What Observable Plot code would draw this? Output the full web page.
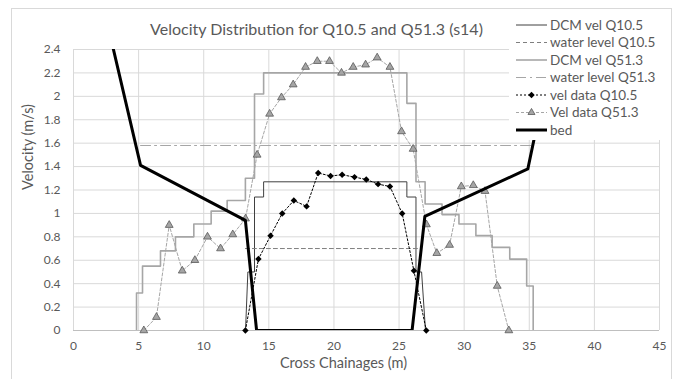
<!DOCTYPE html>
<html>
<head>
<meta charset="utf-8">
<script src="https://cdn.jsdelivr.net/npm/d3@7"></script>
<script src="https://cdn.jsdelivr.net/npm/@observablehq/plot@0.6"></script>
<style>
  html, body { margin: 0; padding: 0; background: white; }
  #chart { position: relative; width: 680px; height: 379px; overflow: hidden; }
</style>
</head>
<body>
<div id="chart"></div>
<script>
// ---- data ----
const title = "Velocity Distribution for Q10.5 and Q51.3 (s14)";
const xLabel = "Cross Chainages (m)";
const yLabel = "Velocity (m/s)";
const xTicks = [0, 5, 10, 15, 20, 25, 30, 35, 40, 45];
const yTicks = [0, 0.2, 0.4, 0.6, 0.8, 1, 1.2, 1.4, 1.6, 1.8, 2, 2.2, 2.4];

// DCM vel Q10.5 (polyline vertices)
const dcm10X = [13.21, 13.39, 13.9, 13.9, 14.6, 14.6, 25.6, 25.6, 26.3, 26.3, 26.73, 27.03];
const dcm10Y = [0, 0.5, 0.5, 1.14, 1.14, 1.27, 1.27, 1.14, 1.14, 0.5, 0.5, 0];

// water level Q10.5
const wl10X = [13.2, 26.5];
const wl10Y = [0.70, 0.70];

// DCM vel Q51.3 (step-after breakpoints)
const dcm51X = [4.84, 4.84, 5.3, 6.68, 7.83, 9.24, 10.57, 11.8, 13.2, 13.9, 14.6, 25.6, 26.3, 27.0, 28.3, 29.6, 30.9, 32.15, 33.5, 34.8, 35.3];
const dcm51Y = [0, 0.32, 0.55, 0.68, 0.80, 0.91, 1.02, 1.11, 1.30, 2.02, 2.20, 1.94, 1.27, 1.08, 0.99, 0.91, 0.81, 0.71, 0.61, 0.38, 0];

// water level Q51.3
const wl51X = [5.15, 35.1];
const wl51Y = [1.58, 1.58];

// vel data Q10.5
const vel10X = [13.2, 14.2, 15.13, 16.03, 16.92, 17.9, 18.79, 19.74, 20.63, 21.58, 22.48, 23.39, 24.3, 25.24, 26.14, 27.09];
const vel10Y = [0, 0.61, 0.81, 1.0, 1.11, 1.06, 1.345, 1.32, 1.33, 1.31, 1.29, 1.25, 1.23, 1.0, 0.51, 0];

// Vel data Q51.3
const vel51X = [5.4, 6.37, 7.35, 8.35, 9.32, 10.29, 11.29, 12.23, 13.21, 14.1, 15.06, 15.97, 16.87, 17.82, 18.72, 19.66, 20.58, 21.48, 22.43, 23.32, 24.3, 25.19, 26.08, 27.1, 27.9, 28.88, 29.78, 30.7, 31.6, 32.54, 33.43];
const vel51Y = [0, 0.114, 0.90, 0.51, 0.60, 0.80, 0.70, 0.82, 0.955, 1.50, 1.85, 1.99, 2.10, 2.25, 2.30, 2.30, 2.20, 2.25, 2.27, 2.33, 2.25, 1.70, 1.55, 0.905, 0.66, 0.73, 1.23, 1.24, 1.19, 0.38, 0];

// bed
const bedX = [2.5, 5.15, 13.2, 14.06, 26.0, 26.98, 34.89, 37.0];
const bedY = [2.67, 1.41, 0.94, 0, 0, 0.974, 1.38, 2.5];

const seriesNames = ["DCM vel Q10.5", "water level Q10.5", "DCM vel Q51.3", "water level Q51.3", "vel data Q10.5", "Vel data Q51.3", "bed"];

// ---- build tables ----
const toRows = (xs, ys) => xs.map((x, i) => ({x, y: ys[i]}));
const dcm10 = toRows(dcm10X, dcm10Y);
const wl10 = toRows(wl10X, wl10Y);
const dcm51 = toRows(dcm51X, dcm51Y);
const wl51 = toRows(wl51X, wl51Y);
const vel10 = toRows(vel10X, vel10Y);
const vel51 = toRows(vel51X, vel51Y);
const bed = toRows(bedX, bedY);

// ---- styles ----
const FONT = "Lato, 'Open Sans', sans-serif";
const TXT = "#595959";
const GRID = "#d9d9d9";
const st = {
  dcm10: {stroke: "#404040", strokeWidth: 1},
  wl10: {stroke: "#7f7f7f", strokeWidth: 1, strokeDasharray: "4,3"},
  dcm51: {stroke: "#a6a6a6", strokeWidth: 1.6},
  wl51: {stroke: "#a6a6a6", strokeWidth: 1, strokeDasharray: "10,4,2,4"},
  vel10: {stroke: "#000000", strokeWidth: 1, strokeDasharray: "2,2"},
  vel51: {stroke: "#a6a6a6", strokeWidth: 1, strokeDasharray: "3,2"},
  bed: {stroke: "#000000", strokeWidth: 3}
};

const svg = Plot.plot({
  width: 680,
  height: 379,
  marginLeft: 73,
  marginRight: 21,
  marginTop: 49,
  marginBottom: 49,
  style: {fontFamily: FONT, color: TXT, background: "white", overflow: "visible"},
  x: {domain: [0, 45]},
  y: {domain: [0, 2.4]},
  marks: [
    Plot.gridX(xTicks, {stroke: GRID, strokeOpacity: 1}),
    Plot.gridY(yTicks, {stroke: GRID, strokeOpacity: 1}),
    Plot.ruleY([0], {stroke: "#bfbfbf"}),
    Plot.axisX(xTicks, {tickSize: 0, tickPadding: 11, fontSize: 12, label: null, fill: TXT}),
    Plot.axisY(yTicks, {tickSize: 0, tickPadding: 13, fontSize: 12, label: null, fill: TXT, tickFormat: d => String(d)}),
    Plot.line(dcm10, {x: "x", y: "y", ...st.dcm10, clip: true}),
    Plot.line(wl10, {x: "x", y: "y", ...st.wl10, clip: true}),
    Plot.line(dcm51, {x: "x", y: "y", curve: "step-after", ...st.dcm51, clip: true}),
    Plot.line(wl51, {x: "x", y: "y", ...st.wl51, clip: true}),
    Plot.line(vel10, {x: "x", y: "y", ...st.vel10, clip: true}),
    Plot.dot(vel10, {x: "x", y: "y", symbol: "diamond2", r: 2.9, fill: "#000", stroke: "none"}),
    Plot.line(vel51, {x: "x", y: "y", ...st.vel51, clip: true}),
    Plot.dot(vel51, {x: "x", y: "y", symbol: "triangle", r: 2.9, fill: "#a5a5a5", stroke: "#595959", strokeWidth: 0.8}),
    Plot.line(bed, {x: "x", y: "y", ...st.bed, clip: true}),
    Plot.text([title], {frameAnchor: "top", dx: -50, dy: -26, fontSize: 16, fill: TXT}),
    Plot.text([xLabel], {frameAnchor: "bottom", dx: -23, dy: 37, fontSize: 14.5, fill: TXT}),
    Plot.text([yLabel], {frameAnchor: "left", rotate: -90, dx: -45, fontSize: 14.5, fill: TXT})
  ]
});

document.getElementById("chart").appendChild(svg);

// ---- chart border and legend ----
const s = d3.select(svg);
s.append("rect").attr("x", 11.5).attr("y", 8.5).attr("width", 660).attr("height", 400)
  .attr("fill", "none").attr("stroke", GRID);

const lg = s.append("g").attr("font-family", FONT).attr("font-size", 13.5).attr("fill", TXT)
  .attr("text-anchor", "start");
lg.append("rect").attr("x", 509).attr("y", 9).attr("width", 162).attr("height", 131).attr("fill", "white");
const keys = ["dcm10", "wl10", "dcm51", "wl51", "vel10", "vel51", "bed"];
keys.forEach((k, i) => {
  const yy = 25 + i * 17.5;
  const o = st[k];
  lg.append("line").attr("x1", 516).attr("x2", 547).attr("y1", yy).attr("y2", yy)
    .attr("stroke", o.stroke).attr("stroke-width", o.strokeWidth)
    .attr("stroke-dasharray", o.strokeDasharray || null);
  if (k === "vel10") {
    lg.append("path").attr("d", d3.symbol(d3.symbolDiamond2, 2.9 * 2.9 * Math.PI)())
      .attr("transform", `translate(531.5,${yy})`).attr("fill", "#000");
  }
  if (k === "vel51") {
    lg.append("path").attr("d", d3.symbol(d3.symbolTriangle, 2.6 * 2.6 * Math.PI)())
      .attr("transform", `translate(531.5,${yy})`).attr("fill", "#a5a5a5").attr("stroke", "#595959").attr("stroke-width", 0.8);
  }
  lg.append("text").attr("x", 550).attr("y", yy).attr("dy", "0.35em").attr("text-anchor", "start").text(seriesNames[i]);
});
</script>
</body>
</html>
